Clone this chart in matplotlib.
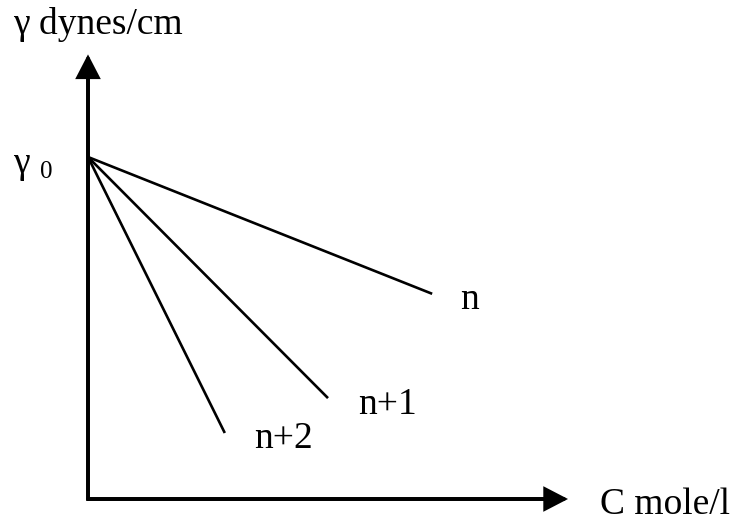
import matplotlib
matplotlib.use("Agg")
import matplotlib.pyplot as plt

# Surface tension vs concentration for a homologous series (Traube's rule sketch)
gamma0 = 10.0            # surface tension of the pure solvent
x_axis_end = 10.0        # concentration axis length
y_axis_end = 13.0        # surface tension axis length
series_labels = ["n", "n+1", "n+2"]
c_end = [7.17, 5.0, 2.85]        # concentration at the end of each line
gamma_end = [6.0, 2.95, 1.93]    # surface tension at the end of each line

W, H = 735, 523
fig = plt.figure(figsize=(W / 100, H / 100), dpi=100)
ax = fig.add_axes([0, 0, 1, 1])
ax.set_xlim(-88 / 48, (W - 88) / 48)
ax.set_ylim(-(H - 499) / 34.2, 499 / 34.2)
ax.axis("off")

serif = ["Liberation Serif", "DejaVu Serif"]

# axes drawn as arrows
axis_lw = 2.7
ax.plot([0, 0, x_axis_end * 0.95], [y_axis_end * 0.95, 0, 0], color="black",
        lw=axis_lw, solid_joinstyle="miter", solid_capstyle="projecting")
arrow_style = "-|>,head_length=13.5,head_width=7"
for tip in [(0, y_axis_end), (x_axis_end, 0)]:
    ax.annotate("", xy=tip, xytext=(0, 0),
                arrowprops=dict(arrowstyle=arrow_style, lw=axis_lw, color="black",
                                shrinkA=0, shrinkB=0, mutation_scale=1,
                                joinstyle="miter"))

# lines for each member of the series
for c, g in zip(c_end, gamma_end):
    ax.plot([0, c], [gamma0, g], color="black", lw=1.9, solid_capstyle="butt")


def px(x, y, s, size=27, **kw):
    fig.text(x / W, 1 - y / H, s, fontsize=size, family=serif,
             va="baseline", ha="left", **kw)


px(13, 34, "γ dynes/cm")
px(13, 173, "γ")
px(40, 178, "0", size=18)
px(600, 514, "C mole/l")
label_pos = [(460, 309), (358, 414), (254, 448)]
for lbl, (x, y) in zip(series_labels, label_pos):
    px(x, y, lbl)

fig.savefig("out.png", dpi=100, facecolor="white")
